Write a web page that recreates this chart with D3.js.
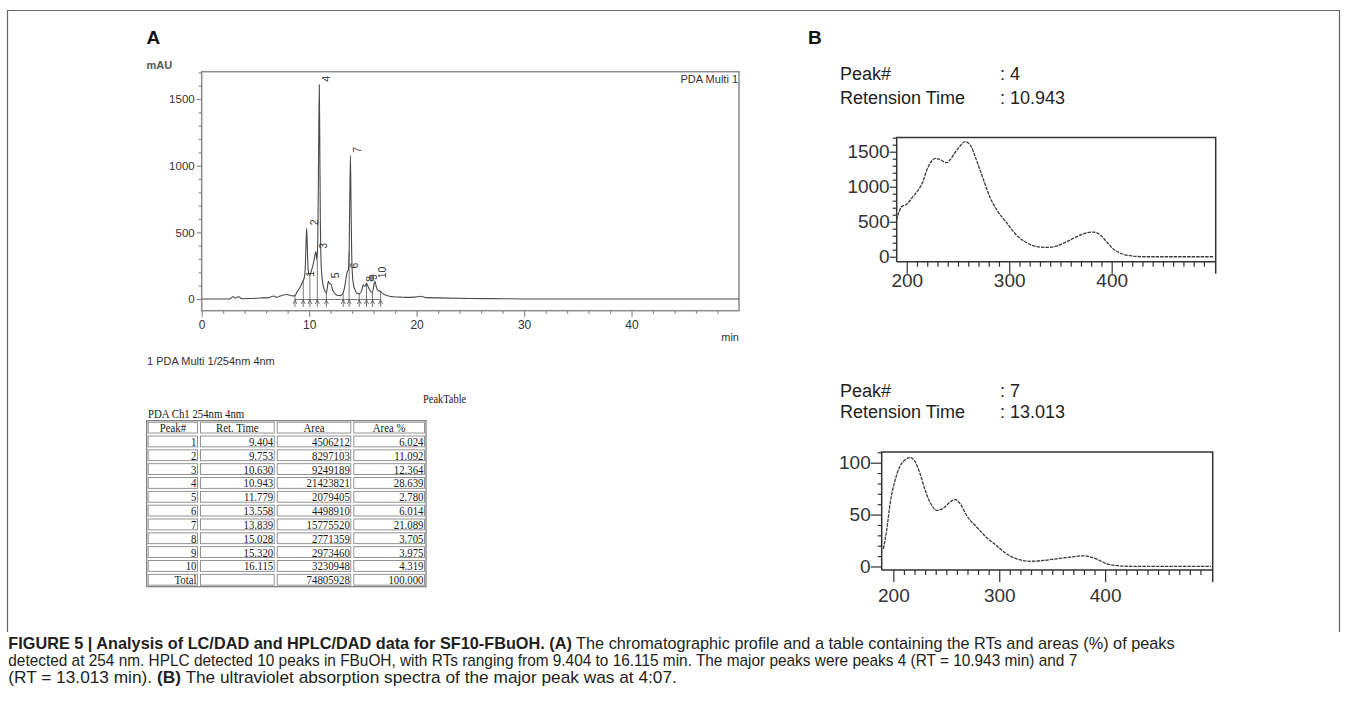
<!DOCTYPE html>
<html>
<head>
<meta charset="utf-8">
<script src="https://cdn.jsdelivr.net/npm/d3@7"></script>
<style>
  body { margin: 0; background: #fff; }
  svg { display: block; }
</style>
</head>
<body>
<div id="container"></div>
<script>
// ---- panel A: chromatogram (min, mAU)
const chromTime = [0, 2.6, 2.8, 2.95, 3.1, 3.3, 3.45, 3.7, 4.5, 5.4, 6.2, 6.6, 6.75, 7.0, 7.3, 7.6, 7.9, 8.2, 8.45, 8.68,
  8.85, 9.1, 9.3, 9.45, 9.55, 9.65, 9.72, 9.77, 9.83, 9.9, 9.98, 10.07, 10.2, 10.38, 10.52, 10.63, 10.72, 10.8, 10.87,
  10.943, 10.99, 11.04, 11.1, 11.2, 11.35, 11.5, 11.6, 11.7, 11.78, 11.9, 12.03, 12.15, 12.3, 12.6, 12.9, 13.1, 13.25,
  13.4, 13.5, 13.558, 13.65, 13.72, 13.78, 13.839, 13.89, 13.95, 14.02, 14.12, 14.25, 14.45, 14.66, 14.86, 14.97,
  15.028, 15.15, 15.24, 15.32, 15.45, 15.64, 15.8, 15.9, 16.0, 16.115, 16.25, 16.4, 16.65, 16.85, 17.05, 17.5, 17.8,
  18.5, 19.1, 19.8, 20.4, 20.9, 22, 25, 28, 30, 50]
const chromMAU = [0, 0, 12, 18, 5, 14, 17, 2, 3, 7, 10, 20, 22, 12, 22, 30, 33, 28, 22, 25,
  50, 80, 112, 140, 160, 260, 440, 530, 380, 230, 185, 180, 210, 262, 320, 355, 290, 420, 1000,
  1607, 1150, 600, 300, 160, 85, 55, 45, 90, 132, 115, 112, 75, 50, 28, 25, 37, 70,
  137, 190, 207, 220, 350, 750, 1075, 760, 380, 190, 110, 72, 42, 40, 57, 90,
  107, 96, 97, 120, 100, 67, 50, 52, 95, 132, 90, 65, 57, 40, 32, 20, 17,
  14, 12, 14, 20, 10, 8, 4, 2, 0, 0]

const peakNo = [1, 2, 3, 4, 5, 6, 7, 8, 9, 10]
const retTime = ['9.404', '9.753', '10.630', '10.943', '11.779', '13.558', '13.839', '15.028', '15.320', '16.115']
const peakArea = ['4506212', '8297103', '9249189', '21423821', '2079405', '4498910', '15775520', '2771359', '2973460', '3230948']
const areaPct = ['6.024', '11.092', '12.364', '28.639', '2.780', '6.014', '21.089', '3.705', '3.975', '4.319']
const totalRow = ['Total', '', '74805928', '100.000']
const tableHead = ['Peak#', 'Ret. Time', 'Area', 'Area %']
const peakHeight = [145, 530, 355, 1607, 132, 207, 1075, 107, 120, 132]

// integration marks (start / drop lines) and curve height at them
const boundTime = [8.68, 9.45, 10.07, 10.76, 11.6, 13.17, 13.72, 14.66, 15.34, 15.9, 16.65]
const boundMAU = [25, 140, 180, 290, 45, 45, 350, 40, 118, 52, 57]

const chromYTicks = [0, 500, 1000, 1500]
const chromXTicks = [0, 10, 20, 30, 40]

// ---- panel B: UV spectra (nm, mAU)
const spec4Nm = [190, 195, 200, 206, 215, 221, 228, 232, 239, 242, 249, 257, 262, 268, 275, 281, 288, 298, 307, 317,
  327, 337, 346, 356, 366, 376, 382, 389, 395, 402, 411, 421, 431, 450, 475, 500]
const spec4Abs = [524, 714, 750, 857, 1048, 1286, 1405, 1390, 1343, 1381, 1524, 1643, 1595, 1381, 1095, 857, 667, 476, 310, 200,
  143, 133, 152, 214, 286, 343, 352, 310, 214, 105, 38, 10, 0, 0, 0, 0]
const spec7Nm = [190.6, 193.7, 197, 201.6, 206, 211, 215.7, 220.5, 225, 230, 234.6, 241, 247, 253.5, 258.3, 263, 269.3, 278.7,
  288, 297.6, 307, 316.5, 329, 341.7, 354.3, 367, 379.5, 389, 401.6, 414, 427, 440, 470, 500]
const spec7Abs = [17, 35, 61, 83, 96, 102.6, 105, 101, 90, 73.5, 62, 54, 56, 62, 64.5, 60.6, 49, 38,
  28, 20, 12, 7.4, 5, 5.8, 7.4, 9, 10.3, 8.4, 2.6, 0.6, 0, 0, 0, 0]
const spec4Ticks = [0, 500, 1000, 1500]
const spec7Ticks = [0, 50, 100]
const specXTicks = [200, 300, 400]
const specPeak = [': 4', ': 7']
const specRT = [': 10.943', ': 13.013']

const captionLines = [
  [['FIGURE 5 | Analysis of LC/DAD and HPLC/DAD data for SF10-FBuOH. (A)', true],
   [' The chromatographic profile and a table containing the RTs and areas (%) of peaks', false]],
  [['detected at 254 nm. HPLC detected 10 peaks in FBuOH, with RTs ranging from 9.404 to 16.115 min. The major peaks were peaks 4 (RT = 10.943 min) and 7', false]],
  [['(RT = 13.013 min). ', false], ['(B)', true], [' The ultraviolet absorption spectra of the major peak was at 4:07.', false]]
]

const width = 1346
const height = 721
const sans = 'Liberation Sans, Arial, sans-serif'
const serif = 'Liberation Serif, Times New Roman, serif'
const fmt = d3.format('d')

let svg = d3.select('#container')
  .append('svg')
  .attr('width', width)
  .attr('height', height)

// figure frame
svg.append('path')
  .attr('d', 'M7.5,632 L7.5,10.5 L1339.5,10.5 L1339.5,632')
  .attr('fill', 'none')
  .attr('stroke', '#666')
  .attr('stroke-width', 1.2)

svg.append('text').attr('x', 146.5).attr('y', 44).text('A')
  .style('font', `bold 19px ${sans}`).attr('fill', '#111')
svg.append('text').attr('x', 808).attr('y', 44).text('B')
  .style('font', `bold 19px ${sans}`).attr('fill', '#111')

// ================= panel A =================
const xA = d3.scaleLinear().domain([0, 50]).range([201.7, 739])
const yA = d3.scaleLinear().domain([-88, 1705]).range([310.7, 71.7])
const gA = svg.append('g')
const frameGrey = '#8c8c8c'

function styleAxis(g, color, font) {
  g.selectAll('path.domain').remove()
  g.selectAll('line').attr('stroke', color).attr('stroke-width', 1.2)
  g.selectAll('text').style('font', font).attr('fill', '#333')
}

// minor ticks
gA.append('g').attr('transform', `translate(0,${yA.range()[0]})`)
  .call(d3.axisBottom(xA).tickValues(d3.range(0, 50, 2).filter(d => d % 10)).tickSize(3).tickFormat(''))
  .call(g => styleAxis(g, frameGrey, `11px ${sans}`))
gA.append('g').attr('transform', `translate(0,${yA.range()[0]})`)
  .call(d3.axisBottom(xA).tickValues(chromXTicks).tickSize(6).tickPadding(4).tickFormat(fmt))
  .call(g => styleAxis(g, frameGrey, `12px ${sans}`))
gA.append('g').attr('transform', `translate(${xA.range()[0]},0)`)
  .call(d3.axisLeft(yA).tickValues(d3.range(0, 1701, 100).filter(d => d % 500)).tickSize(3).tickFormat(''))
  .call(g => styleAxis(g, frameGrey, `11px ${sans}`))
gA.append('g').attr('transform', `translate(${xA.range()[0]},0)`)
  .call(d3.axisLeft(yA).tickValues(chromYTicks).tickSize(5).tickPadding(2).tickFormat(fmt))
  .call(g => styleAxis(g, frameGrey, `11.5px ${sans}`))

// frame
gA.append('rect')
  .attr('x', xA.range()[0]).attr('y', yA.range()[1])
  .attr('width', xA.range()[1] - xA.range()[0])
  .attr('height', yA.range()[0] - yA.range()[1])
  .attr('fill', 'none').attr('stroke', frameGrey).attr('stroke-width', 1.5)

gA.append('text').attr('x', 146.5).attr('y', 69).text('mAU')
  .style('font', `bold 11px ${sans}`).attr('fill', '#555')
gA.append('text').attr('x', 738).attr('y', 83).attr('text-anchor', 'end').text('PDA Multi 1')
  .style('font', `11px ${sans}`).attr('fill', '#333')
gA.append('text').attr('x', 739).attr('y', 341).attr('text-anchor', 'end').text('min')
  .style('font', `11px ${sans}`).attr('fill', '#333')
gA.append('text').attr('x', 147).attr('y', 365).text('1  PDA Multi 1/254nm 4nm')
  .style('font', `11px ${sans}`).attr('fill', '#333')

// integration baseline and marks
const y0 = yA(0)
gA.append('line')
  .attr('x1', xA(boundTime[0])).attr('x2', xA(boundTime[boundTime.length - 1]))
  .attr('y1', y0 + 0.5).attr('y2', y0 + 0.5)
  .attr('stroke', '#555').attr('stroke-width', 0.8)
gA.selectAll('.drop')
  .data(boundTime)
  .enter().append('line')
  .attr('class', 'drop')
  .attr('x1', d => xA(d)).attr('x2', d => xA(d))
  .attr('y1', (d, i) => yA(boundMAU[i]))
  .attr('y2', y0 + 8)
  .attr('stroke', '#555').attr('stroke-width', 0.8)
gA.selectAll('.head')
  .data(boundTime)
  .enter().append('path')
  .attr('class', 'head')
  .attr('d', d => `M${xA(d) - 2},${y0 + 5} L${xA(d)},${y0 + 1} L${xA(d) + 2},${y0 + 5}`)
  .attr('fill', 'none').attr('stroke', '#555').attr('stroke-width', 0.8)

// signal
const chromLine = d3.line()
  .x(d => xA(d[0]))
  .y(d => yA(d[1]))
  .curve(d3.curveMonotoneX)
gA.append('path')
  .datum(d3.zip(chromTime, chromMAU))
  .attr('d', chromLine)
  .attr('fill', 'none')
  .attr('stroke', '#4a4a4a')
  .attr('stroke-width', 1.1)

// peak numbers, vertical
gA.selectAll('.plabel')
  .data(peakNo)
  .enter().append('text')
  .attr('class', 'plabel')
  .attr('transform', (d, i) => {
    let t = parseFloat(retTime[i])
    return `translate(${xA(t) + 11},${yA(peakHeight[i]) - 3}) rotate(-90)`
  })
  .text(d => d)
  .style('font', `10.5px ${sans}`)
  .attr('fill', '#333')

// peak table
const colX = [146.7, 199, 275.7, 352.3, 426]
const rowTop = 420.7
const rowH = 13.83
const gT = svg.append('g')
const squeeze = 0.8

function tableText(x, y, str, anchor, size) {
  gT.append('text')
    .attr('transform', `translate(${x},${y}) scale(${squeeze},1)`)
    .attr('text-anchor', anchor)
    .text(str)
    .style('font', `${size || 13.5}px ${serif}`)
    .attr('fill', '#1a1a1a')
}

tableText(423, 403, 'PeakTable', 'start', 13)
tableText(148, 417.5, 'PDA Ch1 254nm 4nm', 'start', 13.5)

let rows = [tableHead]
peakNo.forEach((p, i) => rows.push([String(p), retTime[i], peakArea[i], areaPct[i]]))
rows.push(totalRow)

gT.append('rect')
  .attr('x', colX[0]).attr('y', rowTop)
  .attr('width', colX[4] - colX[0]).attr('height', rowH * rows.length)
  .attr('fill', 'none').attr('stroke', '#777').attr('stroke-width', 1.2)

rows.forEach((r, ri) => {
  let top = rowTop + ri * rowH
  r.forEach((cell, ci) => {
    gT.append('rect')
      .attr('x', colX[ci] + 1.5).attr('y', top + 1.5)
      .attr('width', colX[ci + 1] - colX[ci] - 3).attr('height', rowH - 3)
      .attr('fill', 'none').attr('stroke', '#888').attr('stroke-width', 0.9)
    if (!cell) return
    if (ri === 0) {
      tableText((colX[ci] + colX[ci + 1]) / 2, top + 11, cell, 'middle')
    } else {
      tableText(colX[ci + 1] - 2.5, top + 11.4, cell, 'end')
    }
  })
})

// ================= panel B =================
function drawSpectrum(cfg) {
  let x = d3.scaleLinear().domain(cfg.xDomain).range([cfg.left, cfg.right])
  let y = d3.scaleLinear().domain(cfg.yDomain).range([cfg.axisY, cfg.top])
  let g = svg.append('g')

  g.append('text').attr('x', 840).attr('y', cfg.textY[0]).text('Peak#')
    .style('font', `18px ${sans}`).attr('fill', '#222')
  g.append('text').attr('x', 1000).attr('y', cfg.textY[0]).text(cfg.peak)
    .style('font', `18px ${sans}`).attr('fill', '#222')
  g.append('text').attr('x', 840).attr('y', cfg.textY[1]).text('Retension Time')
    .style('font', `18px ${sans}`).attr('fill', '#222')
  g.append('text').attr('x', 1000).attr('y', cfg.textY[1]).text(cfg.rt)
    .style('font', `18px ${sans}`).attr('fill', '#222')

  // x ticks
  g.append('g').attr('transform', `translate(0,${cfg.axisY})`)
    .call(d3.axisBottom(x).tickValues(d3.range(200, 500, 10).filter(d => d % 100)).tickSize(5).tickFormat(''))
    .call(s => styleAxis(s, '#333', `18px ${sans}`))
  g.append('g').attr('transform', `translate(0,${cfg.axisY})`)
    .call(d3.axisBottom(x).tickValues(specXTicks).tickSize(12).tickFormat(fmt))
    .call(s => styleAxis(s, '#333', `19px ${sans}`))
    .call(s => s.selectAll('text').attr('y', cfg.labelDy).attr('dy', 0))

  // y ticks
  g.append('g').attr('transform', `translate(${cfg.left},0)`)
    .call(d3.axisLeft(y).tickValues(d3.range(0, cfg.yDomain[1], cfg.minor).filter(d => d % cfg.ticks[1])).tickSize(4).tickFormat(''))
    .call(s => styleAxis(s, '#333', `18px ${sans}`))
  g.append('g').attr('transform', `translate(${cfg.left},0)`)
    .call(d3.axisLeft(y).tickValues(cfg.ticks).tickSize(cfg.majorY).tickPadding(0).tickFormat(fmt))
    .call(s => styleAxis(s, '#333', `19px ${sans}`))

  // frame
  g.append('path')
    .attr('d', `M${cfg.left},${cfg.axisY} L${cfg.left},${cfg.top} L${cfg.right},${cfg.top} L${cfg.right},${cfg.axisY + 12}` +
      ` M${cfg.left},${cfg.axisY} L${cfg.right},${cfg.axisY}`)
    .attr('fill', 'none').attr('stroke', '#333').attr('stroke-width', 1.5)

  let line = d3.line()
    .x(d => x(d[0]))
    .y(d => y(d[1]))
    .curve(d3.curveMonotoneX)
  g.append('path')
    .datum(d3.zip(cfg.nm, cfg.abs))
    .attr('d', line)
    .attr('fill', 'none')
    .attr('stroke', '#3a3a3a')
    .attr('stroke-width', 1.3)
    .attr('stroke-dasharray', '3.5,1')
}

drawSpectrum({
  nm: spec4Nm, abs: spec4Abs, ticks: spec4Ticks, minor: 100,
  xDomain: [190.2, 501.5], yDomain: [-71, 1703],
  left: 896.7, right: 1215.7, top: 137.5, axisY: 261.7,
  majorY: 7, labelDy: 25.5,
  peak: specPeak[0], rt: specRT[0], textY: [80, 103.5]
})
drawSpectrum({
  nm: spec7Nm, abs: spec7Abs, ticks: spec7Ticks, minor: 10,
  xDomain: [189, 501.6], yDomain: [-3.4, 110.3],
  left: 881.7, right: 1212.7, top: 452, axisY: 570,
  majorY: 11, labelDy: 32,
  peak: specPeak[1], rt: specRT[1], textY: [396.7, 417.5]
})

// ================= caption =================
// fit each line to its width in the picture, but only stretch a little
const capWidth = [1168, 1070, 703]
captionLines.forEach((parts, i) => {
  let t = svg.append('text')
    .attr('x', 0).attr('y', 0)
    .style('font', `16px ${sans}`)
    .attr('fill', '#231f20')
  parts.forEach(p => {
    t.append('tspan').text(p[0]).attr('font-weight', p[1] ? 'bold' : 'normal')
  })
  let w = t.node().getComputedTextLength()
  let k = Math.max(0.85, Math.min(1.08, capWidth[i] / w))
  t.attr('transform', `translate(8.3,${648.5 + i * 17.2}) scale(${k},1)`)
})
</script>
</body>
</html>
